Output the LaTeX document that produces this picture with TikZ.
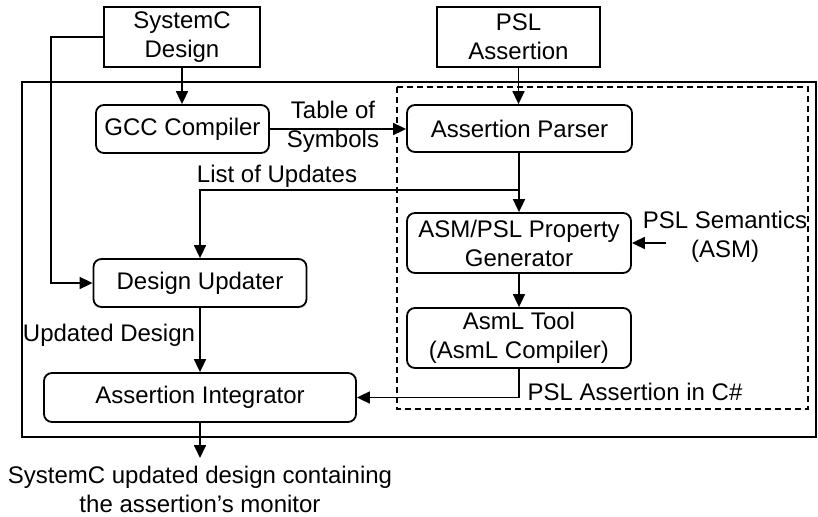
\documentclass[tikz,border=0pt]{standalone}
\usepackage{fontspec}
\setmainfont{Liberation Sans}
\usetikzlibrary{arrows.meta}
\begin{document}
\begin{tikzpicture}[x=1pt,y=-1pt,
  font=\fontsize{24}{29}\selectfont,
  box/.style={draw, line width=1.8pt, inner sep=0pt, align=center},
  rbox/.style={box, rounded corners=8pt},
  conn/.style={line width=1.7pt, -{Triangle[length=13pt,width=12pt]}},
  lbl/.style={inner sep=0pt, align=center}]
\useasboundingbox (0,0) rectangle (818,516);
% frames
\draw[line width=2.4pt] (22,82) rectangle (816,437);
\draw[line width=1.5pt, dash pattern=on 6pt off 4pt] (397,87) rectangle (808,409);
% nodes
\node[box, minimum width=156pt, minimum height=60pt] (sd) at (182,37) {SystemC\\Design};
\node[box, minimum width=163pt, minimum height=60pt] (psl) at (518.5,37) {PSL\\Assertion};
\node[rbox, minimum width=173pt, minimum height=48pt] (gcc) at (182.5,129) {GCC Compiler};
\node[rbox, minimum width=225pt, minimum height=47pt] (parser) at (519.5,128.5) {Assertion Parser};
\node[rbox, minimum width=224pt, minimum height=60pt] (gen) at (519,243) {ASM/PSL Property\\Generator};
\node[rbox, minimum width=224pt, minimum height=60pt] (asml) at (519,338) {AsmL Tool\\(AsmL Compiler)};
\node[rbox, minimum width=213pt, minimum height=48pt] (upd) at (200,283) {Design Updater};
\node[rbox, minimum width=312pt, minimum height=49pt] (integ) at (200,397.5) {Assertion Integrator};
% labels
\node[lbl] (tos) at (333,127) {Table of\\Symbols};
\node[lbl] (lou) at (277,176) {List of Updates};
\node[lbl] (sem) at (725,237) {PSL Semantics\\(ASM)};
\node[lbl] (csh) at (635,392) {PSL Assertion in C\#};
\node[lbl] (ud) at (109,335) {Updated Design};
\node[lbl] (outtxt) at (200,489) {SystemC updated design containing\\the assertion’s monitor};
% coordinates
\coordinate (j) at (519,190);
\coordinate (semsrc) at (666,243);
\coordinate (sdl) at (51,37);
\coordinate (out) at (200,458);
% connectors
\draw[conn] (sd.south) -- (gcc.north -| sd.south);
\draw[conn] (psl.south) -- (parser.north -| psl.south);
\draw[conn] (gcc.east) -- (parser.west |- gcc.east);
\draw[conn] (parser.south -| j) -- (gen.north -| j);
\draw[conn] (j) -| (upd.north);
\draw[conn] (semsrc) -- (gen.east |- semsrc);
\draw[conn] (gen.south -| j) -- (asml.north -| j);
\draw[conn] (asml.south -| j) |- (integ.east);
\draw[conn] (sd.west) -- (sdl) |- (upd.west);
\draw[conn] (upd.south) -- (integ.north -| upd.south);
\draw[conn] (integ.south) -- (out);
\end{tikzpicture}
\end{document}
